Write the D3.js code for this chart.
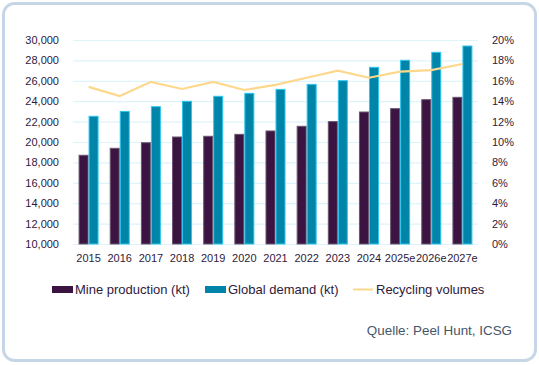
<html>
<script src="https://d3js.org/d3.v7.min.js"></script>
<style>
  body { margin: 0; background: #fff; }
  text { font-family: "Liberation Sans", Arial, sans-serif; }
</style>
<body>
<svg id="chart" width="539" height="365"></svg>
<script>
const years = ["2015","2016","2017","2018","2019","2020","2021","2022","2023","2024","2025e","2026e","2027e"];
const mineProduction = [18700,19380,19930,20490,20560,20750,21080,21540,22000,22940,23270,24150,24380];
const globalDemand = [22520,23000,23460,23990,24480,24770,25160,25650,26010,27320,28010,28790,29410];
const recycling = [15.4,14.5,15.9,15.2,15.9,15.1,15.6,16.3,17.0,16.3,16.9,17.05,17.65];
const leftTicks = [10000,12000,14000,16000,18000,20000,22000,24000,26000,28000,30000];
const rightTicks = [0,2,4,6,8,10,12,14,16,18,20];

const svg = d3.select("#chart");

// card
svg.append("rect").attr("x", 3.5).attr("y", 3.5).attr("width", 532).attr("height", 357)
  .attr("rx", 11).attr("fill", "#fff").attr("stroke", "#c6d6e6").attr("stroke-width", 3);

const plotL = 73, plotR = 478, plotT = 40, plotB = 244;
const x = d3.scaleBand().domain(years).range([plotL, plotR]);
const yL = d3.scaleLinear().domain([10000, 30000]).range([plotB, plotT]);
const yR = d3.scaleLinear().domain([0, 20]).range([plotB, plotT]);
const inner = d3.scaleBand().domain(["mine", "global"]).range([-10, 10]);

// gridlines
svg.append("g").selectAll("line").data(leftTicks).join("line")
  .attr("x1", plotL).attr("x2", plotR)
  .attr("y1", d => yL(d) + 0.5).attr("y2", d => yL(d) + 0.5)
  .attr("stroke", "#dff3fb").attr("stroke-width", 1.2);

// left axis
const axL = svg.append("g").attr("transform", `translate(${plotL - 11},0)`)
  .call(d3.axisLeft(yL).tickValues(leftTicks).tickSize(0).tickFormat(d3.format(",")));
axL.select(".domain").remove();
axL.selectAll("text").attr("fill", "#2e1a3c").attr("font-size", 11);

// right axis
const axR = svg.append("g").attr("transform", `translate(${plotR + 11},0)`)
  .call(d3.axisRight(yR).tickValues(rightTicks).tickSize(0).tickFormat(d => d + "%"));
axR.select(".domain").remove();
axR.selectAll("text").attr("fill", "#2e1a3c").attr("font-size", 11);

// x axis
const axX = svg.append("g").attr("transform", `translate(0,${plotB + 7})`)
  .call(d3.axisBottom(x).tickSize(0));
axX.select(".domain").remove();
axX.selectAll("text").attr("fill", "#2e1a3c").attr("font-size", 11);

// bars
svg.append("g").selectAll("rect").data(years).join("rect")
  .attr("x", d => x(d) + x.bandwidth() / 2 + inner("mine") + 0.5)
  .attr("y", (d, i) => yL(mineProduction[i]))
  .attr("width", inner.bandwidth() - 1)
  .attr("height", (d, i) => plotB - yL(mineProduction[i]))
  .attr("fill", "#3b1441").attr("stroke", "#6b5670").attr("stroke-width", 1);

svg.append("g").selectAll("rect").data(years).join("rect")
  .attr("x", d => x(d) + x.bandwidth() / 2 + inner("global") + 0.5)
  .attr("y", (d, i) => yL(globalDemand[i]))
  .attr("width", inner.bandwidth() - 1)
  .attr("height", (d, i) => plotB - yL(globalDemand[i]))
  .attr("fill", "#0084a7").attr("stroke", "#2cc6ef").attr("stroke-width", 1);

// recycling line
svg.append("path").datum(recycling)
  .attr("fill", "none").attr("stroke", "#fdd88c").attr("stroke-width", 2.2)
  .attr("d", d3.line().x((d, i) => x(years[i]) + x.bandwidth() / 2).y(d => yR(d)));

// legend
const lg = svg.append("g").attr("font-size", 13);
lg.append("rect").attr("x", 52).attr("y", 286).attr("width", 21).attr("height", 7).attr("fill", "#3b1441");
lg.append("text").attr("x", 75).attr("y", 294).text("Mine production (kt)").attr("fill", "#2e1a3c");
lg.append("rect").attr("x", 205).attr("y", 286).attr("width", 21).attr("height", 7).attr("fill", "#0084a7");
lg.append("text").attr("x", 228).attr("y", 294).text("Global demand (kt)").attr("fill", "#2e1a3c");
lg.append("line").attr("x1", 353).attr("x2", 373).attr("y1", 289.5).attr("y2", 289.5)
  .attr("stroke", "#fdd88c").attr("stroke-width", 2);
lg.append("text").attr("x", 376).attr("y", 294).text("Recycling volumes").attr("fill", "#2e1a3c");

// source
svg.append("text").attr("x", 512).attr("y", 335).attr("text-anchor", "end")
  .attr("font-size", 13.4).attr("fill", "#45566b").text("Quelle: Peel Hunt, ICSG");
</script>
</body>
</html>
